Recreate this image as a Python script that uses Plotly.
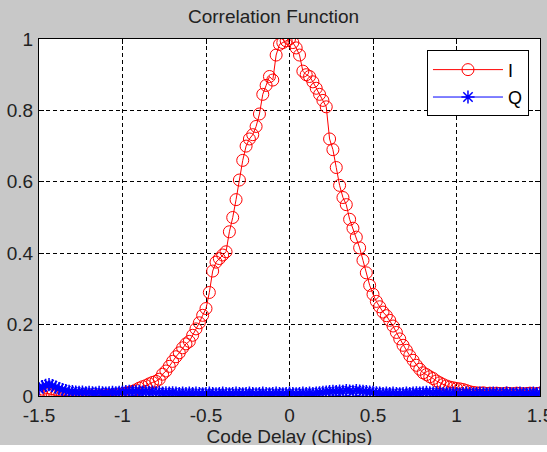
import plotly.graph_objects as go

delay = [round(-1.5 + 0.02 * i, 2) for i in range(151)]

corr_i = [
    0.005, 0.002, 0.008, 0.006, 0.003, 0.001, 0.000, 0.001, 0.000, 0.001,
    0.000, 0.000, 0.001, 0.000, 0.000, 0.001, 0.000, 0.000, 0.001, 0.000,
    0.001, 0.002, 0.001, 0.003, 0.004, 0.006, 0.008, 0.010, 0.013, 0.017,
    0.022, 0.026, 0.029, 0.034, 0.038, 0.041, 0.047, 0.061, 0.070, 0.083,
    0.097, 0.110, 0.121, 0.135, 0.146, 0.153, 0.170, 0.188, 0.205, 0.226,
    0.245, 0.290, 0.350, 0.375, 0.385, 0.395, 0.404, 0.460, 0.500, 0.550,
    0.605, 0.660, 0.700, 0.720, 0.732, 0.755, 0.790, 0.845, 0.870, 0.895,
    0.885, 0.955, 0.985, 0.990, 0.995, 1.000, 0.990, 0.975, 0.955, 0.910,
    0.900, 0.895, 0.880, 0.862, 0.845, 0.828, 0.810, 0.720, 0.690, 0.640,
    0.590, 0.556, 0.536, 0.495, 0.470, 0.445, 0.415, 0.380, 0.345, 0.310,
    0.285, 0.265, 0.250, 0.235, 0.225, 0.212, 0.196, 0.178, 0.160, 0.142,
    0.128, 0.113, 0.100, 0.086, 0.075, 0.065, 0.060, 0.054, 0.049, 0.042,
    0.037, 0.032, 0.028, 0.025, 0.023, 0.021, 0.020, 0.018, 0.015, 0.012,
    0.010, 0.009, 0.008, 0.009, 0.007, 0.008, 0.006, 0.008, 0.007, 0.006,
    0.008, 0.007, 0.006, 0.008, 0.007, 0.006, 0.007, 0.008, 0.006, 0.007,
    0.008,
]

corr_q = [
    0.020, 0.026, 0.030, 0.032, 0.029, 0.025, 0.021, 0.018, 0.015, 0.013,
    0.012, 0.011, 0.010, 0.011, 0.009, 0.010, 0.009, 0.008, 0.010, 0.009,
    0.008, 0.009, 0.010, 0.009, 0.010, 0.011, 0.012, 0.013, 0.012, 0.013,
    0.012, 0.011, 0.012, 0.010, 0.011, 0.009, 0.010, 0.008, 0.009, 0.008,
    0.009, 0.008, 0.007, 0.008, 0.007, 0.008, 0.007, 0.008, 0.007, 0.006,
    0.007, 0.008, 0.007, 0.006, 0.007, 0.008, 0.007, 0.006, 0.007, 0.008,
    0.007, 0.006, 0.007, 0.008, 0.007, 0.006, 0.007, 0.008, 0.007, 0.006,
    0.007, 0.008, 0.007, 0.006, 0.007, 0.008, 0.007, 0.006, 0.007, 0.008,
    0.007, 0.008, 0.007, 0.008, 0.009, 0.010, 0.011, 0.012, 0.013, 0.012,
    0.014, 0.013, 0.015, 0.014, 0.013, 0.015, 0.014, 0.013, 0.012, 0.011,
    0.010, 0.009, 0.008, 0.007, 0.008, 0.007, 0.008, 0.007, 0.006, 0.007,
    0.008, 0.007, 0.008, 0.009, 0.008, 0.009, 0.010, 0.009, 0.008, 0.009,
    0.008, 0.007, 0.008, 0.007, 0.008, 0.007, 0.006, 0.007, 0.008, 0.007,
    0.006, 0.007, 0.008, 0.007, 0.006, 0.007, 0.008, 0.007, 0.006, 0.007,
    0.008, 0.007, 0.006, 0.007, 0.008, 0.007, 0.006, 0.007, 0.008, 0.007,
    0.008,
]

x_ticks = [-1.5, -1, -0.5, 0, 0.5, 1, 1.5]
x_tick_text = ["-1.5", "-1", "-0.5", "0", "0.5", "1", "1.5"]
y_ticks = [0, 0.2, 0.4, 0.6, 0.8, 1]
y_tick_text = ["0", "0.2", "0.4", "0.6", "0.8", "1"]

fig = go.Figure()
fig.add_trace(go.Scatter(
    x=delay, y=corr_i, name="I", mode="lines+markers", legendgroup="I",
    line=dict(color="#ff0000", width=1),
    marker=dict(symbol="circle-open", size=12, color="#ff0000", line=dict(width=1)),
))
fig.add_trace(go.Scatter(
    x=delay, y=corr_q, name="Q", mode="lines+markers", legendgroup="Q",
    line=dict(color="#0000ff", width=1),
    marker=dict(symbol="asterisk-open", size=11, color="#0000ff", line=dict(width=1.5, color="#0000ff")),
))

font = "Liberation Sans, Arial, sans-serif"
axis_common = dict(
    showline=True, linecolor="#000000", linewidth=1, mirror="ticks",
    showgrid=True, gridcolor="#000000", griddash="4px,3px", gridwidth=1,
    zeroline=False, ticks="inside", ticklen=5, tickcolor="#000000",
    tickfont=dict(family=font, size=19, color="#222222"), automargin=False,
)

fig.update_xaxes(range=[-1.5, 1.5], tickvals=x_ticks, ticktext=x_tick_text,
                 ticklabeloverflow="allow", ticklabelstandoff=2,
                 title=dict(text="Code Delay (Chips)", font=dict(family=font, size=19, color="#222222"), standoff=0),
                 **axis_common)
fig.update_yaxes(range=[0, 1], tickvals=y_ticks, ticktext=y_tick_text, ticklabelstandoff=1, **axis_common)

fig.add_annotation(text=" ", xref="paper", yref="paper", x=-39 / 501, xanchor="left",
                   y=-49 / 357, yanchor="top", showarrow=False, bgcolor="#ffffff",
                   width=547, height=10, borderpad=0, borderwidth=0)

fig.update_layout(
    width=547, height=452,
    margin=dict(l=39, r=7, t=39, b=56),
    paper_bgcolor="#c8c8c8", plot_bgcolor="#ffffff",
    title=dict(text="Correlation Function", x=0.5, xanchor="center", y=0.978, yanchor="top",
               font=dict(family=font, size=19, color="#222222")),
    showlegend=True,
    legend=dict(x=0.978, xanchor="right", y=0.968, yanchor="top",
                bgcolor="#ffffff", bordercolor="#000000", borderwidth=1,
                font=dict(family=font, size=18, color="#000000"),
                itemwidth=70, tracegroupgap=1),
)

fig.write_html("out.html", config={"displayModeBar": False},
               post_script="document.body.style.margin='0';document.body.style.overflow='hidden';")
